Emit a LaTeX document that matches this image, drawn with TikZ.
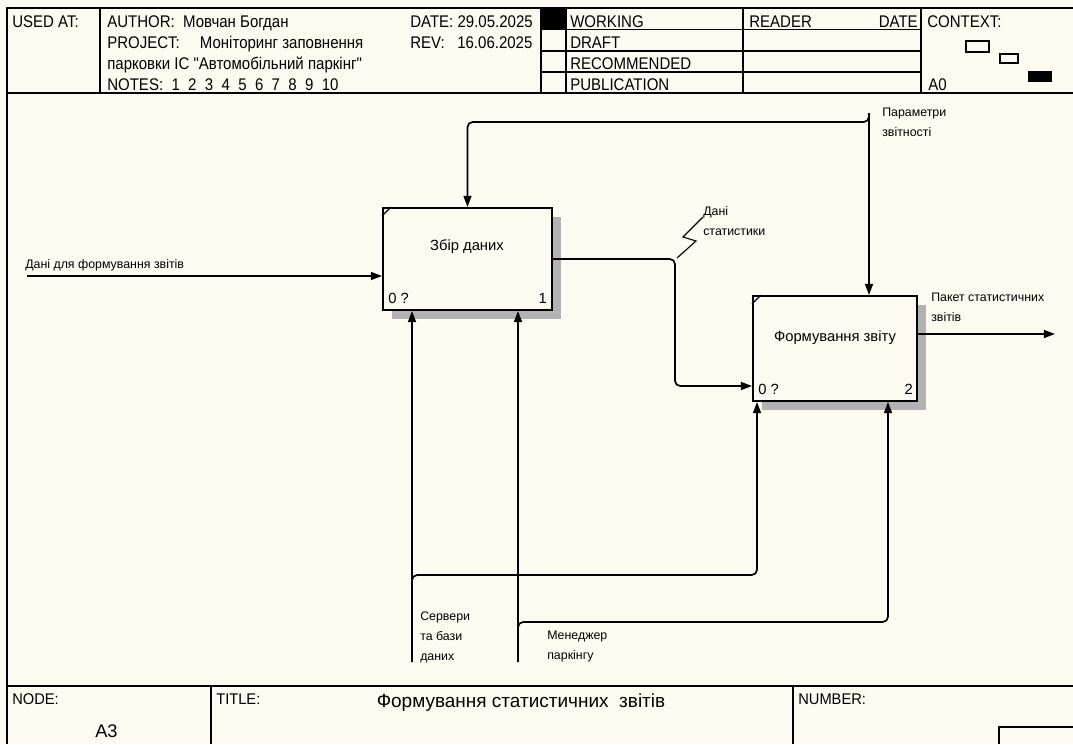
\documentclass[tikz,border=0pt]{standalone}
\usepackage{fontspec}
\setmainfont{Liberation Sans}
\newfontfamily\narrowfont[FakeStretch=0.89]{Liberation Sans}
\newfontfamily\footfont[FakeStretch=0.95]{Liberation Sans}
\usetikzlibrary{arrows.meta,shadows,calc}
\definecolor{paper}{HTML}{FDFAF2}

\begin{document}
\begin{tikzpicture}[x=0.025cm, y=-0.025cm,
  every node/.style={inner sep=0pt, font=\fontsize{8.8}{14.2}\selectfont},
  >={Triangle[length=2.8mm, width=2mm]},
  frame/.style={line width=1.1pt},
  hdr/.style={anchor=base west, font=\narrowfont\fontsize{12}{14}\selectfont},
  ftr/.style={anchor=base west, font=\footfont\fontsize{11}{13}\selectfont},
  actbox/.style={draw, line width=1.4pt, fill=paper,
    general shadow={fill=black!30, shadow xshift=0.225cm, shadow yshift=-0.225cm}},
  actname/.style={font=\fontsize{10.5}{12}\selectfont},
  arc/.style={line width=1.2pt, rounded corners=1.3mm},
  lbl/.style={anchor=north west, align=left}]

\fill[paper] (0,0) rectangle (1073,744);
\useasboundingbox (0,0) rectangle (1073,744);

% header
\draw[frame] (7,744) -- (7,8) -- (1073,8);
\draw[frame] (7,93) -- (1073,93);
\foreach \x in {100,541,566,743,921} \draw[frame] (\x,8) -- (\x,93);
\foreach \y in {29.5,51,72} \draw[frame] (541,\y) -- (921,\y);
\fill (541,8) rectangle (566,29.5);
\draw[line width=0.8pt] (966,41) rectangle (989,52);
\draw[line width=0.8pt] (1000,54) rectangle (1018,63);
\fill (1028,71) rectangle (1052,82);

\node[hdr] (usedAt) at (12,27) {USED AT:};
\node[hdr] (author) at (107,27) {AUTHOR:\ \ Мовчан Богдан};
\node[hdr] (project) at (107,48) {PROJECT:\hspace{5mm}Моніторинг заповнення};
\node[hdr] (project2) at (107,69) {парковки ІС "Автомобільний паркінг"};
\node[hdr] (notes) at (107,90) {NOTES:\ \ 1\ \ 2\ \ 3\ \ 4\ \ 5\ \ 6\ \ 7\ \ 8\ \ 9\ \ 10};
\node[hdr] (date) at (410,27) {DATE: 29.05.2025};
\node[hdr] (rev) at (410,48) {REV:\ \ \ 16.06.2025};
\node[hdr] (working) at (570,27) {WORKING};
\node[hdr] (draft) at (570,48) {DRAFT};
\node[hdr] (recomm) at (570,69) {RECOMMENDED};
\node[hdr] (public) at (570,90) {PUBLICATION};
\node[hdr] (reader) at (749,27) {READER};
\node[hdr, anchor=base east] (rdate) at (918,27) {DATE};
\node[hdr] (context) at (927,27) {CONTEXT:};
\node[hdr] (ctxId) at (928,90) {A0};

% activities
\node[actbox, minimum width=4.225cm, minimum height=2.55cm] (zbir) at (467.5,259) {};
\node[actbox, minimum width=4.1cm, minimum height=2.625cm] (formuv) at (835,348.5) {};
\draw[line width=0.8pt] ($(zbir.north west)+(0,9)$) -- ++(9,-9);
\draw[line width=0.8pt] ($(formuv.north west)+(0,9)$) -- ++(9,-9);
\node[actname] (zbirName) at (467,247) {Збір даних};
\node[actname] (formuvName) at (835,338) {Формування звіту};
\node[actname, anchor=base west] (zbirCost) at ($(zbir.south west)+(6,-8)$) {0 ?};
\node[actname, anchor=base east] (zbirNum) at ($(zbir.south east)+(-6,-8)$) {1};
\node[actname, anchor=base west] (formuvCost) at ($(formuv.south west)+(6,-8)$) {0 ?};
\node[actname, anchor=base east] (formuvNum) at ($(formuv.south east)+(-5,-8)$) {2};

% arrows
\coordinate (inSrc) at (27,276);
\coordinate (ctlSrc) at (869,113);
\coordinate (ctlJoin) at (869,122);
\coordinate (statTurn) at (675,386);
\coordinate (pktDst) at (1055,334);
\coordinate (srvSrc) at (412,662);
\coordinate (srvJoin) at (412,575);
\coordinate (srvTurn) at (757,575);
\coordinate (mgrSrc) at (518,662);
\coordinate (mgrJoin) at (518,622);
\coordinate (mgrTurn) at (888,622);

\draw[arc,->] (inSrc) -- (inSrc -| zbir.west);
\draw[arc,->] (ctlSrc) -- (ctlSrc |- formuv.north);
\draw[arc,->] (ctlSrc) -- (ctlJoin) -- (ctlJoin -| zbir.north) -- (zbir.north);
\draw[arc,->] (zbir.east) -| (statTurn) -- (statTurn -| formuv.west);
\draw[arc,->] (pktDst -| formuv.east) -- (pktDst);
\draw[arc,->] (srvSrc) -- (srvSrc |- zbir.south);
\draw[arc,->] (srvSrc) -- (srvJoin) -- (srvTurn) -- (srvTurn |- formuv.south);
\draw[arc,->] (mgrSrc) -- (mgrSrc |- zbir.south);
\draw[arc,->] (mgrSrc) -- (mgrJoin) -- (mgrTurn) -- (mgrTurn |- formuv.south);
\draw[line width=0.8pt] (703,217) -- (683,237) -- (696,241) -- (677,258);

\node[anchor=base west] (inLbl) at (25,268) {Дані для формування звітів};
\node[lbl] (ctlLbl) at (882,108) {Параметри\\звітності};
\node[lbl] (statLbl) at (703,206) {Дані\\статистики};
\node[lbl] (pktLbl) at (931,293) {Пакет статистичних\\звітів};
\node[lbl] (srvLbl) at (420,612) {Сервери\\та бази\\даних};
\node[lbl] (mgrLbl) at (547,631) {Менеджер\\паркінгу};

% footer
\draw[frame] (7,686) -- (1073,686);
\foreach \x in {211,793} \draw[frame] (\x,686) -- (\x,744);
\draw[frame] (999,744) |- (1073,727);
\node[ftr] (nodeLbl) at (12,704) {NODE:};
\node[ftr] (titleLbl) at (216,704) {TITLE:};
\node[ftr] (numLbl) at (798,704) {NUMBER:};
\node[anchor=base, font=\fontsize{13.5}{15}\selectfont] (title) at (521,707) {Формування статистичних\ \ звітів};
\node[anchor=base west, font=\fontsize{13}{15}\selectfont] (nodeId) at (95,737) {A3};
\end{tikzpicture}
\end{document}
